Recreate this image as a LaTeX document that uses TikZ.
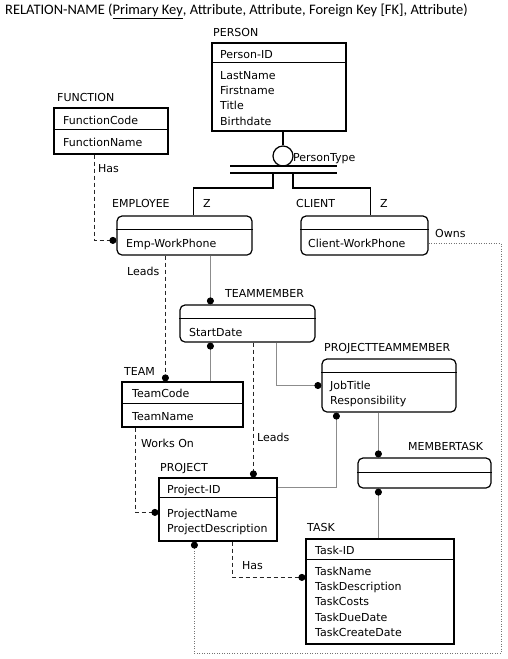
\documentclass[tikz,border=0pt]{standalone}
\usepackage{fontspec}
\setmainfont{DejaVu Sans}
\newfontfamily\titlefont{Carlito}
\usetikzlibrary{arrows.meta}

\begin{document}
\begin{tikzpicture}[x=1pt,y=-1pt,
  txt/.style={inner sep=0pt, anchor=base west, align=left, font=\fontsize{11}{15.4}\selectfont},
  entity/.style={draw=black, line width=1.2pt, inner sep=0pt},
  weakentity/.style={entity, rounded corners=5pt},
  splitline/.style={draw=black, line width=1.2pt},
  rel/.style={draw=black!45, line width=0.9pt},
  dashrel/.style={draw=black!85, line width=0.9pt, dash pattern=on 4pt off 3pt},
  ownsrel/.style={draw=black!55, line width=0.8pt, dash pattern=on 1pt off 1.5pt},
  dotend/.style={-{Circle[length=7pt,color=black,fill=black]}}]
\useasboundingbox (0,0) rectangle (508,659);
\node [txt, font=\titlefont\fontsize{14.5}{16}\selectfont] (title) at (5,14.5) {RELATION-NAME (\underline{Primary Key}, Attribute, Attribute, Foreign Key [FK], Attribute)};

\node [entity, minimum width=134, minimum height=88] (person) at (279,87) {};
\node [entity, minimum width=114, minimum height=46] (func) at (111,131) {};
\node [weakentity, minimum width=135, minimum height=39] (emp) at (184.5,235.5) {};
\node [weakentity, minimum width=127, minimum height=39] (client) at (364.5,235.5) {};
\node [weakentity, minimum width=135, minimum height=37] (tm) at (247.5,323.5) {};
\node [entity, minimum width=121, minimum height=45] (team) at (182.5,404.5) {};
\node [weakentity, minimum width=134, minimum height=53] (ptm) at (389,385.5) {};
\node [weakentity, minimum width=133, minimum height=30] (mt) at (424.5,473) {};
\node [entity, minimum width=118, minimum height=63] (project) at (218,509.5) {};
\node [entity, minimum width=148, minimum height=105] (task) at (380,591.5) {};

\draw [splitline] ([yshift=-20pt]person.north west) -- ([yshift=-20pt]person.north east);
\draw [splitline] ([yshift=-22pt]func.north west) -- ([yshift=-22pt]func.north east);
\draw [splitline] ([yshift=-14pt]emp.north west) -- ([yshift=-14pt]emp.north east);
\draw [splitline] ([yshift=-14pt]client.north west) -- ([yshift=-14pt]client.north east);
\draw [splitline] ([yshift=-14pt]tm.north west) -- ([yshift=-14pt]tm.north east);
\draw [splitline] ([yshift=-22pt]team.north west) -- ([yshift=-22pt]team.north east);
\draw [splitline] ([yshift=-14pt]ptm.north west) -- ([yshift=-14pt]ptm.north east);
\draw [splitline] ([yshift=-15pt]mt.north west) -- ([yshift=-15pt]mt.north east);
\draw [splitline] ([yshift=-20pt]project.north west) -- ([yshift=-20pt]project.north east);
\draw [splitline] ([yshift=-21pt]task.north west) -- ([yshift=-21pt]task.north east);

\node [txt] (personlbl) at (213,36) {PERSON};
\node [txt] (funclbl) at (57,101) {FUNCTION};
\node [txt] (emplbl) at (112,207) {EMPLOYEE};
\node [txt] (clientlbl) at (296,207) {CLIENT};
\node [txt] (tmlbl) at (225,297) {TEAMMEMBER};
\node [txt] (teamlbl) at (124,375) {TEAM};
\node [txt] (ptmlbl) at (324,351) {PROJECTTEAMMEMBER};
\node [txt] (mtlbl) at (408,450) {MEMBERTASK};
\node [txt] (projectlbl) at (160,471) {PROJECT};
\node [txt] (tasklbl) at (307,531) {TASK};

% multi-line nodes sit on the baseline of their last line
\node [txt] (personkey) at (220,58) {Person-ID};
\node [txt] (personattr) at (220,125.2) {LastName\\Firstname\\Title\\Birthdate};
\node [txt] (funckey) at (63,124) {FunctionCode};
\node [txt] (funcattr) at (63,146) {FunctionName};
\node [txt] (empattr) at (126,247) {Emp-WorkPhone};
\node [txt] (clientattr) at (308,247) {Client-WorkPhone};
\node [txt] (tmattr) at (189,336) {StartDate};
\node [txt] (teamkey) at (132,397) {TeamCode};
\node [txt] (teamattr) at (132,420) {TeamName};
\node [txt] (ptmattr) at (330,404.4) {JobTitle\\Responsibility};
\node [txt] (projectkey) at (167,493) {Project-ID};
\node [txt] (projectattr) at (167,532.4) {ProjectName\\ProjectDescription};
\node [txt] (taskkey) at (315,554) {Task-ID};
\node [txt] (taskattr) at (315,636.6) {TaskName\\TaskDescription\\TaskCosts\\TaskDueDate\\TaskCreateDate};

\node [entity, circle, minimum size=20pt] (isa) at (283,156) {};
\node [txt] (isalbl) at (293,161) {PersonType};
\draw [splitline] (isa.north) -- (isa.north |- person.south);
\coordinate (isaL) at (230,166);
\coordinate (isaR) at (337,166);
\coordinate (subL) at (273,173);
\coordinate (subR) at (293,173);
\draw [splitline] (isaL) -- (isaR);
\draw [splitline] ([yshift=-7pt]isaL) -- ([yshift=-7pt]isaR);
\draw [splitline] (subL) -- ++(0,15) -| ([xshift=77]emp.north west);
\draw [splitline] (subR) -- ++(0,15) -| ([xshift=70]client.north west);
\node [txt] (empz) at (203,207) {Z};
\node [txt] (clientz) at (380,207) {Z};

\draw [dashrel, dotend] ([xshift=41]func.south west) |- ([yshift=-25pt]emp.north west);
\node [txt] (hasfunc) at (98,172) {Has};
\draw [rel, dotend] ([xshift=94]emp.south west) -- ([xshift=31]tm.north west);
\draw [dashrel, dotend] ([xshift=49]emp.south west) -- ([xshift=44]team.north west);
\node [txt] (leadsteam) at (127,275) {Leads};
\draw [rel, dotend] ([xshift=89]team.north west) -- ([xshift=31]tm.south west);
\draw [dashrel, dotend] ([xshift=74]tm.south west) -- ([xshift=95]project.north west);
\node [txt] (leadsproject) at (257,441) {Leads};
\draw [rel, dotend] ([xshift=97]tm.south west) |- (ptm.west);
\draw [rel, dotend] ([yshift=-10pt]project.north east) -| ([xshift=15]ptm.south west);
\draw [rel, dotend] ([xshift=57]ptm.south west) -- ([xshift=21]mt.north west);
\draw [rel, dotend] ([xshift=73]task.north west) -- ([xshift=21]mt.south west);
\draw [dashrel, dotend] ([xshift=14]team.south west) |- ([yshift=-35pt]project.north west);
\node [txt] (workson) at (141,447) {Works On};
\draw [dashrel, dotend] ([xshift=74]project.south west) |- ([yshift=-39pt]task.north west);
\node [txt] (hastask) at (242,569) {Has};
\coordinate (ownsturn) at (501,653);
\draw [ownsrel, dotend] ([yshift=-28pt]client.north east) -| (ownsturn) -| ([xshift=36]project.south west);
\node [txt] (owns) at (435,237) {Owns};
\end{tikzpicture}
\end{document}
